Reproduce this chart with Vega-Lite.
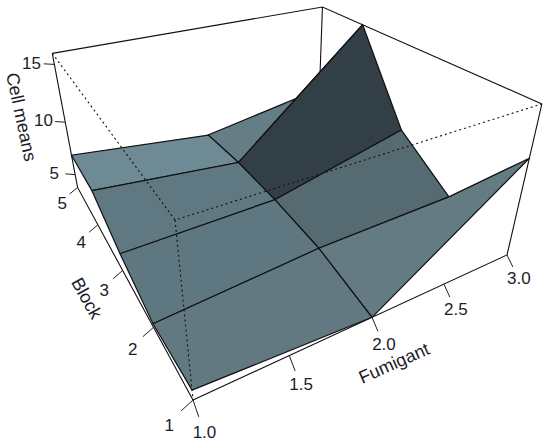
{"$schema":"https://vega.github.io/schema/vega-lite/v6.json","width":550,"height":444,"padding":0,"autosize":{"type":"fit","contains":"padding"},"background":"white","config":{"view":{"stroke":null}},
"data":{"values":[
{"part":"box","id":"ab","seq":1,"fumigant":1,"block":5,"mean":15.9},{"part":"box","id":"ab","seq":2,"fumigant":3,"block":5,"mean":15.9},{"part":"box","id":"ab","seq":3,"fumigant":3,"block":1,"mean":15.9},
{"part":"box","id":"bd","seq":1,"fumigant":3,"block":5,"mean":15.9},{"part":"box","id":"bd","seq":2,"fumigant":3,"block":5,"mean":3.7},
{"part":"box","id":"ae","seq":1,"fumigant":1,"block":5,"mean":15.9},{"part":"box","id":"ae","seq":2,"fumigant":1,"block":5,"mean":3.7},{"part":"box","id":"ae","seq":3,"fumigant":1,"block":1,"mean":3.7},{"part":"box","id":"ae","seq":4,"fumigant":3,"block":1,"mean":3.7},{"part":"box","id":"ae","seq":5,"fumigant":3,"block":1,"mean":15.9},
{"part":"quad","id":"F2B4","seq":1,"fumigant":2,"block":4,"mean":5.7},{"part":"quad","id":"F2B4","seq":2,"fumigant":3,"block":4,"mean":15.9},{"part":"quad","id":"F2B4","seq":3,"fumigant":3,"block":5,"mean":7.5},{"part":"quad","id":"F2B4","seq":4,"fumigant":2,"block":5,"mean":5.5},{"part":"quad","id":"F2B4","seq":5,"fumigant":2,"block":4,"mean":5.7},
{"part":"quad","id":"F1B4","seq":1,"fumigant":1,"block":4,"mean":6.9},{"part":"quad","id":"F1B4","seq":2,"fumigant":2,"block":4,"mean":5.7},{"part":"quad","id":"F1B4","seq":3,"fumigant":2,"block":5,"mean":5.5},{"part":"quad","id":"F1B4","seq":4,"fumigant":1,"block":5,"mean":6.9},{"part":"quad","id":"F1B4","seq":5,"fumigant":1,"block":4,"mean":6.9},
{"part":"quad","id":"F2B3","seq":1,"fumigant":2,"block":3,"mean":5.5},{"part":"quad","id":"F2B3","seq":2,"fumigant":3,"block":3,"mean":8.4},{"part":"quad","id":"F2B3","seq":3,"fumigant":3,"block":4,"mean":15.9},{"part":"quad","id":"F2B3","seq":4,"fumigant":2,"block":4,"mean":5.7},{"part":"quad","id":"F2B3","seq":5,"fumigant":2,"block":3,"mean":5.5},
{"part":"quad","id":"F1B3","seq":1,"fumigant":1,"block":3,"mean":5.2},{"part":"quad","id":"F1B3","seq":2,"fumigant":2,"block":3,"mean":5.5},{"part":"quad","id":"F1B3","seq":3,"fumigant":2,"block":4,"mean":5.7},{"part":"quad","id":"F1B3","seq":4,"fumigant":1,"block":4,"mean":6.9},{"part":"quad","id":"F1B3","seq":5,"fumigant":1,"block":3,"mean":5.2},
{"part":"quad","id":"F2B2","seq":1,"fumigant":2,"block":2,"mean":5.0},{"part":"quad","id":"F2B2","seq":2,"fumigant":3,"block":2,"mean":5.2},{"part":"quad","id":"F2B2","seq":3,"fumigant":3,"block":3,"mean":8.4},{"part":"quad","id":"F2B2","seq":4,"fumigant":2,"block":3,"mean":5.5},{"part":"quad","id":"F2B2","seq":5,"fumigant":2,"block":2,"mean":5.0},
{"part":"quad","id":"F1B2","seq":1,"fumigant":1,"block":2,"mean":4.0},{"part":"quad","id":"F1B2","seq":2,"fumigant":2,"block":2,"mean":5.0},{"part":"quad","id":"F1B2","seq":3,"fumigant":2,"block":3,"mean":5.5},{"part":"quad","id":"F1B2","seq":4,"fumigant":1,"block":3,"mean":5.2},{"part":"quad","id":"F1B2","seq":5,"fumigant":1,"block":2,"mean":4.0},
{"part":"quad","id":"F2B1","seq":1,"fumigant":2,"block":1,"mean":3.7},{"part":"quad","id":"F2B1","seq":2,"fumigant":3,"block":1,"mean":11.9},{"part":"quad","id":"F2B1","seq":3,"fumigant":3,"block":2,"mean":5.2},{"part":"quad","id":"F2B1","seq":4,"fumigant":2,"block":2,"mean":5.0},{"part":"quad","id":"F2B1","seq":5,"fumigant":2,"block":1,"mean":3.7},
{"part":"quad","id":"F1B1","seq":1,"fumigant":1,"block":1,"mean":4.5},{"part":"quad","id":"F1B1","seq":2,"fumigant":2,"block":1,"mean":3.7},{"part":"quad","id":"F1B1","seq":3,"fumigant":2,"block":2,"mean":5.0},{"part":"quad","id":"F1B1","seq":4,"fumigant":1,"block":2,"mean":4.0},{"part":"quad","id":"F1B1","seq":5,"fumigant":1,"block":1,"mean":4.5},
{"part":"dot","id":"ha","seq":1,"fumigant":1,"block":5,"mean":15.9},{"part":"dot","id":"ha","seq":2,"fumigant":1,"block":1,"mean":15.9},{"part":"dot","id":"ha","seq":3,"fumigant":3,"block":1,"mean":15.9},
{"part":"dot","id":"hf","seq":1,"fumigant":1,"block":1,"mean":15.9},{"part":"dot","id":"hf","seq":2,"fumigant":1,"block":1,"mean":3.7},
{"part":"tick","id":"f1","seq":1,"fumigant":1,"block":1,"mean":3.7},{"part":"tick","id":"f1","seq":2,"fumigant":1,"block":0.89,"mean":3.07},
{"part":"tick","id":"f15","seq":1,"fumigant":1.5,"block":1,"mean":3.7},{"part":"tick","id":"f15","seq":2,"fumigant":1.5,"block":0.89,"mean":3.07},
{"part":"tick","id":"f2","seq":1,"fumigant":2,"block":1,"mean":3.7},{"part":"tick","id":"f2","seq":2,"fumigant":2,"block":0.89,"mean":3.07},
{"part":"tick","id":"f25","seq":1,"fumigant":2.5,"block":1,"mean":3.7},{"part":"tick","id":"f25","seq":2,"fumigant":2.5,"block":0.89,"mean":3.07},
{"part":"tick","id":"f3","seq":1,"fumigant":3,"block":1,"mean":3.7},{"part":"tick","id":"f3","seq":2,"fumigant":3,"block":0.89,"mean":3.07},
{"part":"tick","id":"b1","seq":1,"fumigant":1,"block":1,"mean":3.7},{"part":"tick","id":"b1","seq":2,"fumigant":0.94,"block":1,"mean":3.27},
{"part":"tick","id":"b2","seq":1,"fumigant":1,"block":2,"mean":3.7},{"part":"tick","id":"b2","seq":2,"fumigant":0.94,"block":2,"mean":3.27},
{"part":"tick","id":"b3","seq":1,"fumigant":1,"block":3,"mean":3.7},{"part":"tick","id":"b3","seq":2,"fumigant":0.94,"block":3,"mean":3.27},
{"part":"tick","id":"b4","seq":1,"fumigant":1,"block":4,"mean":3.7},{"part":"tick","id":"b4","seq":2,"fumigant":0.94,"block":4,"mean":3.27},
{"part":"tick","id":"b5","seq":1,"fumigant":1,"block":5,"mean":3.7},{"part":"tick","id":"b5","seq":2,"fumigant":0.94,"block":5,"mean":3.27},
{"part":"tick","id":"z5","seq":1,"fumigant":1,"block":5,"mean":5},{"part":"tick","id":"z5","seq":2,"fumigant":0.945,"block":5.086,"mean":5},
{"part":"tick","id":"z10","seq":1,"fumigant":1,"block":5,"mean":10},{"part":"tick","id":"z10","seq":2,"fumigant":0.945,"block":5.086,"mean":10},
{"part":"tick","id":"z15","seq":1,"fumigant":1,"block":5,"mean":15},{"part":"tick","id":"z15","seq":2,"fumigant":0.945,"block":5.086,"mean":15},
{"part":"label","label":"1.0","fumigant":1,"block":0.78,"mean":2.55},{"part":"label","label":"1.5","fumigant":1.5,"block":0.78,"mean":2.55},{"part":"label","label":"2.0","fumigant":2,"block":0.78,"mean":2.45},{"part":"label","label":"2.5","fumigant":2.5,"block":0.78,"mean":2.45},{"part":"label","label":"3.0","fumigant":3,"block":0.78,"mean":2.45},
{"part":"label","label":"1","fumigant":0.88,"block":1,"mean":2.55},{"part":"label","label":"2","fumigant":0.88,"block":2,"mean":2.47},{"part":"label","label":"3","fumigant":0.88,"block":3,"mean":2.47},{"part":"label","label":"4","fumigant":0.88,"block":4,"mean":2.47},{"part":"label","label":"5","fumigant":0.88,"block":5,"mean":2.47},
{"part":"label","label":"5","fumigant":0.88,"block":5.17,"mean":5},{"part":"label","label":"10","fumigant":0.88,"block":5.17,"mean":10},{"part":"label","label":"15","fumigant":0.88,"block":5.17,"mean":15},
{"part":"titleF","label":"Fumigant","fumigant":2,"block":0.6,"mean":1.87},
{"part":"titleB","label":"Block","fumigant":0.774,"block":3,"mean":2.36},
{"part":"titleZ","label":"Cell means","fumigant":0.74,"block":5,"mean":11.26}
]},
"transform":[
{"calculate":"(datum.fumigant-1)/2","as":"u"},
{"calculate":"(datum.block-1)/4","as":"v"},
{"calculate":"(datum.mean-3.7)/12.2","as":"t"},
{"calculate":"1+0.326*datum.u+0.56*datum.v-0.175*datum.t","as":"w"},
{"calculate":"(193+479.3*datum.u-72*datum.v-48.6*datum.t)/datum.w","as":"sx"},
{"calculate":"(400-61.9*datum.u-107.6*datum.v-218.5*datum.t)/datum.w","as":"sy"}
],
"encoding":{
"x":{"field":"sx","type":"quantitative","axis":null,"scale":{"domain":[0,550],"range":[0,550],"nice":false,"zero":false}},
"y":{"field":"sy","type":"quantitative","axis":null,"scale":{"domain":[0,444],"range":[0,444],"nice":false,"zero":false}}
},
"layer":[
{"transform":[{"filter":"datum.part=='box'"}],"mark":{"type":"line","stroke":"#111","strokeWidth":1.1},"encoding":{"detail":{"field":"id"},"order":{"field":"seq","type":"quantitative"}}},
{"transform":[{"filter":"datum.part=='quad'"}],"mark":{"type":"line","stroke":"#111","strokeWidth":1.2},"encoding":{"fill":{"field":"id","type":"nominal","legend":null,"sort":null,"scale":{"domain":["F2B4","F1B4","F2B3","F1B3","F2B2","F1B2","F2B1","F1B1"],"range":["#647d86","#6e8b95","#333f47","#5f7881","#566a72","#5f7780","#647b83","#627981"]}},"order":{"field":"seq","type":"quantitative"}}},
{"transform":[{"filter":"datum.part=='dot'"}],"mark":{"type":"line","stroke":"#111","strokeWidth":1.1,"strokeDash":[2,3]},"encoding":{"detail":{"field":"id"},"order":{"field":"seq","type":"quantitative"}}},
{"transform":[{"filter":"datum.part=='tick'"}],"mark":{"type":"line","stroke":"#222","strokeWidth":1},"encoding":{"detail":{"field":"id"},"order":{"field":"seq","type":"quantitative"}}},
{"transform":[{"filter":"datum.part=='label'"}],"mark":{"type":"text","font":"Liberation Sans","fontSize":17,"fill":"#1c1c28","align":"center","baseline":"middle"},"encoding":{"text":{"field":"label"}}},
{"transform":[{"filter":"datum.part=='titleF'"}],"mark":{"type":"text","font":"Liberation Sans","fontSize":18,"fill":"#1c1c28","align":"center","baseline":"middle","angle":-24},"encoding":{"text":{"field":"label"}}},
{"transform":[{"filter":"datum.part=='titleB'"}],"mark":{"type":"text","font":"Liberation Sans","fontSize":18,"fill":"#1c1c28","align":"center","baseline":"middle","angle":61},"encoding":{"text":{"field":"label"}}},
{"transform":[{"filter":"datum.part=='titleZ'"}],"mark":{"type":"text","font":"Liberation Sans","fontSize":18,"fill":"#1c1c28","align":"center","baseline":"middle","angle":78},"encoding":{"text":{"field":"label"}}}
]}
